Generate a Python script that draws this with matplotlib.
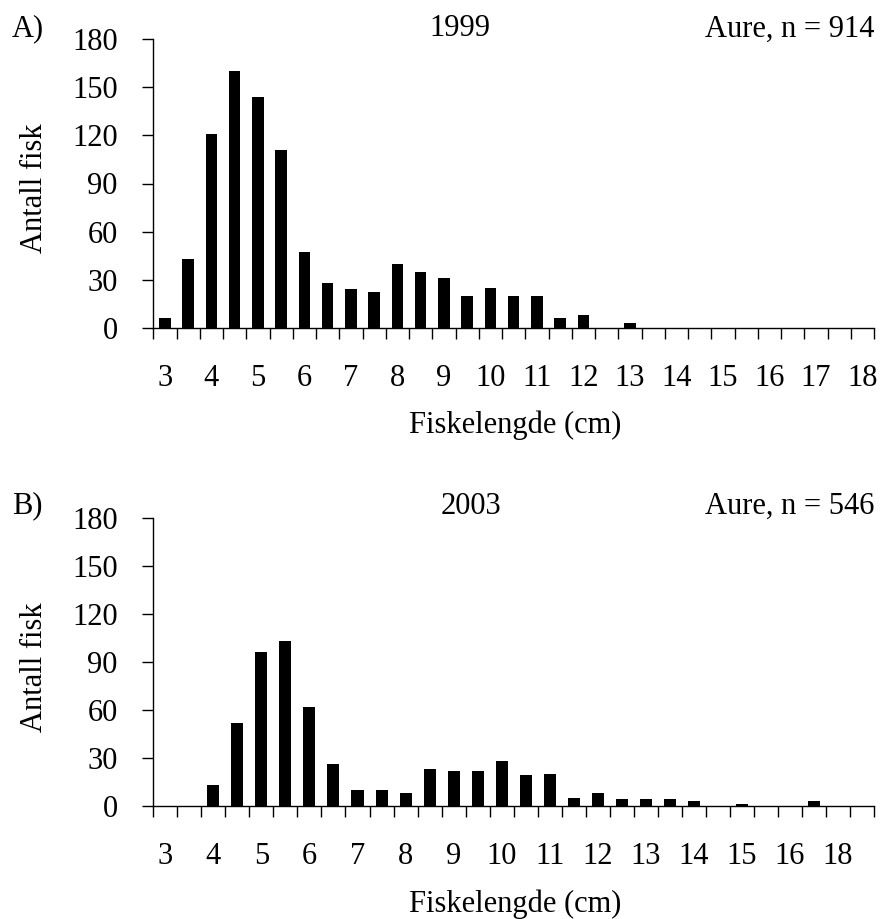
import matplotlib
matplotlib.use("Agg")
import matplotlib.pyplot as plt
import numpy as np

plt.rcParams['font.family'] = ['Liberation Serif', 'DejaVu Serif']

# Length classes (cm) and number of trout per class
lengths_1999 = ["3", "3.5", "4", "4.5", "5", "5.5", "6", "6.5", "7", "7.5", "8",
                "8.5", "9", "9.5", "10", "10.5", "11", "11.5", "12", "12.5", "13",
                "13.5", "14", "14.5", "15", "15.5", "16", "16.5", "17", "17.5", "18"]
counts_1999 = [6, 43, 121, 160, 144, 111, 47, 28, 24, 22, 40,
               35, 31, 20, 25, 20, 20, 6, 8, 0, 3,
               0, 0, 0, 0, 0, 0, 0, 0, 0, 0]

lengths_2003 = ["3", "3.5", "4", "4.5", "5", "5.5", "6", "6.5", "7", "7.5", "8",
                "8.5", "9", "9.5", "10", "10.5", "11", "11.5", "12", "12.5", "13",
                "13.5", "14", "14.5", "15", "15.5", "16", "17", "18", "18.5"]
counts_2003 = [0, 0, 13, 52, 96, 103, 62, 26, 10, 10, 8,
               23, 22, 22, 28, 19, 20, 5, 8, 4, 4,
               4, 3, 0, 1, 0, 0, 3, 0, 0]

panels = [
    ("A)", "1999", "Aure, n = 914", lengths_1999, counts_1999),
    ("B)", "2003", "Aure, n = 546", lengths_2003, counts_2003),
]

y_ticks = [0, 30, 60, 90, 120, 150, 180]
FS = 22

W, H = 880, 919
fig = plt.figure(figsize=(W / 100, H / 100), dpi=100)


def fx(px):
    return px / W


def fy(py):
    return 1 - py / H


# axes frames in pixel coordinates: (left, top, right, bottom)
frames = [(153.3, 39.3, 874.0, 327.7), (153.3, 517.7, 874.0, 805.7)]
tag_y = [29, 506]
year_x = [460, 471]
xlabel_y = [425, 904]

for i, (tag, year, note, cats, vals) in enumerate(panels):
    l, t, r, b = frames[i]
    ax = fig.add_axes([fx(l), fy(b), fx(r - l), (b - t) / H])
    n = len(cats)
    pos = np.arange(n)
    ax.bar(pos, vals, width=0.5, color='black', edgecolor='none')

    ax.set_xlim(-0.5, n - 0.5)
    ax.set_ylim(0, 180)
    for s in ('top', 'right'):
        ax.spines[s].set_visible(False)
    for s in ('left', 'bottom'):
        ax.spines[s].set_linewidth(1.0)

    # tick marks at class boundaries, labels on every second class
    ax.set_xticks(np.arange(n + 1) - 0.5)
    ax.set_xticklabels([])
    ax.set_xticks(pos[::2], minor=True)
    ax.set_xticklabels(cats[::2], minor=True, fontsize=FS)
    ax.tick_params(axis='x', which='major', direction='out', length=7.7, width=1.0)
    ax.tick_params(axis='x', which='minor', length=0, pad=26)

    ax.set_yticks(y_ticks)
    ax.set_yticklabels([str(v) for v in y_ticks], fontsize=FS)
    ax.tick_params(axis='y', direction='out', length=7.7, width=1.0, pad=18)

    fig.text(fx(34), fy((t + b) / 2 + 5), "Antall fisk", rotation=90,
             ha='center', va='center', fontsize=FS)
    fig.text(fx((l + r) / 2 + 2), fy(xlabel_y[i]), "Fiskelengde (cm)",
             ha='center', va='center', fontsize=FS)
    fig.text(fx(12), fy(tag_y[i]), tag, ha='left', va='center', fontsize=FS)
    fig.text(fx(year_x[i]), fy(tag_y[i]), year, ha='center', va='center', fontsize=FS)
    fig.text(fx(r), fy(tag_y[i]), note, ha='right', va='center', fontsize=FS)

fig.savefig("out.png", dpi=100)
